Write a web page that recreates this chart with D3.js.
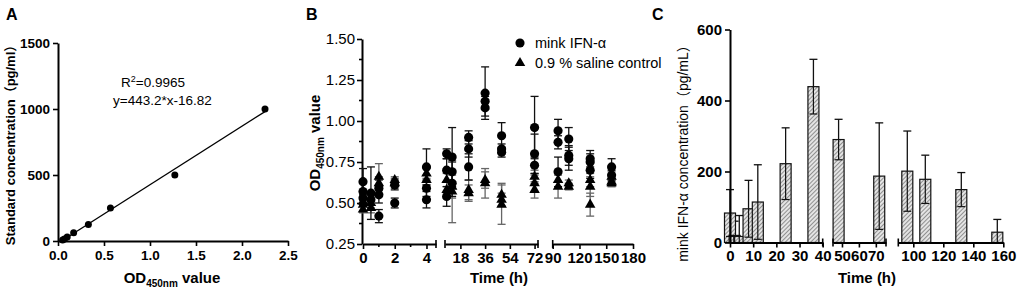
<!DOCTYPE html>
<html>
<head>
<meta charset="utf-8">
<script src="https://cdn.jsdelivr.net/npm/d3@7"></script>
<style>
body { margin: 0; background: #fff; }
svg { font-family: Arial, "Liberation Sans", "Noto Sans CJK SC", sans-serif; }
.axis .domain { stroke: #000; stroke-width: 2; }
.axis .tick line { stroke: #000; stroke-width: 1.6; }
</style>
</head>
<body>
<svg id="fig" width="1021" height="293"></svg>
<script>
// ---- Panel A data: standard curve
var stdOD = [0.05, 0.07, 0.10, 0.17, 0.33, 0.57, 1.27, 2.25];
var stdConc = [7.8, 15.6, 31.25, 62.5, 125, 250, 500, 1000];
var fitSlope = 443.2, fitIntercept = -16.82;
var fitOD = [0.06, 2.25];
var aXTicks = [0, 0.5, 1.0, 1.5, 2.0, 2.5];
var aYTicks = [0, 500, 1000, 1500];

// ---- Panel B data: OD values per time point, [mean, sd] per well
var bTimes = [0, 0.5, 1, 2, 4, 8, 12, 24, 36, 48, 72, 96, 108, 132, 156];
var ifnOD = [
  [[0.63, 0.08], [0.57, 0.05], [0.53, 0.04]],
  [[0.56, 0.16], [0.52, 0.03]],
  [[0.59, 0.05], [0.55, 0.05], [0.42, 0.04]],
  [[0.50, 0.03], [0.61, 0.03]],
  [[0.72, 0.11], [0.59, 0.05], [0.52, 0.05]],
  [[0.80, 0.03], [0.70, 0.07], [0.54, 0.06]],
  [[0.78, 0.18], [0.69, 0.06], [0.62, 0.08]],
  [[0.90, 0.04], [0.83, 0.05], [0.72, 0.08]],
  [[1.17, 0.16], [1.12, 0.03], [1.08, 0.05]],
  [[0.91, 0.08], [0.83, 0.03], [0.81, 0.03]],
  [[0.96, 0.19], [0.80, 0.12], [0.73, 0.05]],
  [[0.94, 0.07], [0.87, 0.04], [0.69, 0.09]],
  [[0.89, 0.07], [0.79, 0.06], [0.77, 0.07]],
  [[0.77, 0.05], [0.75, 0.05], [0.70, 0.05]],
  [[0.72, 0.05], [0.67, 0.03]]
];
var salineOD = [
  [[0.49, 0.04], [0.46, 0.02], [0.51, 0.03]],
  [[0.50, 0.03], [0.47, 0.03]],
  [[0.66, 0.08], [0.62, 0.04]],
  [[0.64, 0.02], [0.62, 0.03]],
  [[0.68, 0.03], [0.64, 0.03]],
  [[0.64, 0.04], [0.58, 0.05]],
  [[0.57, 0.19], [0.60, 0.07]],
  [[0.58, 0.06], [0.56, 0.05]],
  [[0.62, 0.09], [0.64, 0.05]],
  [[0.55, 0.07], [0.52, 0.04], [0.49, 0.12]],
  [[0.66, 0.04], [0.62, 0.05], [0.58, 0.05]],
  [[0.64, 0.04], [0.60, 0.07]],
  [[0.62, 0.02], [0.60, 0.02]],
  [[0.64, 0.04], [0.60, 0.06], [0.49, 0.07]],
  [[0.66, 0.03], [0.63, 0.03], [0.62, 0.02]]
];
var bYTicks = [0.25, 0.50, 0.75, 1.00, 1.25, 1.50];
var bYMinor = [0.375, 0.625, 0.875, 1.125, 1.375];
var bSeriesNames = ["mink IFN-α", "0.9 % saline control"];

// ---- Panel C data: mink IFN-alpha concentration (pg/mL)
var cTimes = [0, 2, 4, 8, 12, 24, 36, 48, 72, 96, 108, 132, 156];
var cMean = [83, 20, 17, 95, 114, 222, 439, 290, 187, 201, 178, 149, 29];
var cSD = [66, 40, 59, 80, 105, 101, 77, 57, 150, 113, 68, 48, 36];
var cYTicks = [0, 200, 400, 600];

var svg = d3.select('#fig');

// hatch for the bars
var defs = svg.append('defs');
var pat = defs.append('pattern')
  .attr('id', 'hatch')
  .attr('patternUnits', 'userSpaceOnUse')
  .attr('width', 3).attr('height', 3)
  .attr('patternTransform', 'rotate(45)');
pat.append('rect').attr('width', 3).attr('height', 3).attr('fill', '#e4e4e4');
pat.append('line').attr('x1', 0).attr('y1', 0).attr('x2', 0).attr('y2', 3)
  .attr('stroke', '#4a4a4a').attr('stroke-width', 1.1);

function panelLabel(x, txt) {
  svg.append('text').attr('x', x).attr('y', 20)
    .style('font-size', '16px').style('font-weight', 'bold').text(txt);
}

function styleTicks(g, size, weight) {
  g.selectAll('.tick text').style('font-size', size).style('font-weight', weight).attr('fill', '#000');
}

// ================= Panel A =================
var xA = d3.scaleLinear().domain([0, 2.5]).range([58, 288]);
var yA = d3.scaleLinear().domain([0, 1500]).range([241, 43]);

var gAx = svg.append('g').attr('class', 'axis').attr('transform', 'translate(0,241)')
  .call(d3.axisBottom(xA).tickValues(aXTicks).tickFormat(d3.format('.1f')).tickSize(5).tickPadding(4).tickSizeOuter(0));
styleTicks(gAx, '13.5px', 'bold');
var gAy = svg.append('g').attr('class', 'axis').attr('transform', 'translate(58,0)')
  .call(d3.axisLeft(yA).tickValues(aYTicks).tickFormat(d3.format('d')).tickSize(5).tickPadding(3).tickSizeOuter(0));
styleTicks(gAy, '13.5px', 'bold');

svg.append('line')
  .attr('x1', xA(fitOD[0])).attr('y1', yA(fitSlope * fitOD[0] + fitIntercept))
  .attr('x2', xA(fitOD[1])).attr('y2', yA(fitSlope * fitOD[1] + fitIntercept))
  .attr('stroke', '#000').attr('stroke-width', 1.3);

svg.selectAll('circle.std')
  .data(stdOD)
  .enter()
  .append('circle')
  .attr('class', 'std')
  .attr('cx', function (d) { return xA(d); })
  .attr('cy', function (d, i) { return yA(stdConc[i]); })
  .attr('r', 3.5)
  .attr('fill', '#000');

var r2 = svg.append('text').attr('x', 121).attr('y', 87).style('font-size', '13.5px');
r2.append('tspan').text('R');
r2.append('tspan').attr('dy', -5).style('font-size', '9px').text('2');
r2.append('tspan').attr('dy', 5).text('=0.9965');
svg.append('text').attr('x', 113).attr('y', 105).style('font-size', '13.5px')
  .text('y=' + fitSlope + '*x' + fitIntercept);

svg.append('text')
  .attr('transform', 'translate(15,142) rotate(-90)')
  .attr('text-anchor', 'middle')
  .style('font-size', '13px').style('font-weight', 'bold')
  .text('Standard concentration（pg/ml）');

var tA = svg.append('text').attr('x', 172).attr('y', 283).attr('text-anchor', 'middle')
  .style('font-size', '15px').style('font-weight', 'bold');
tA.append('tspan').text('OD');
tA.append('tspan').attr('dy', 4).style('font-size', '10px').text('450nm');
tA.append('tspan').attr('dy', -4).text(' value');

panelLabel(6, 'A');

// ================= Panel B =================
var yB = d3.scaleLinear().domain([0.25, 1.5]).range([244, 39]);
var bSegs = [
  { scale: d3.scaleLinear().domain([0, 4.6]).range([363, 436]), ticks: [0, 2, 4], minor: [1, 3], start: false },
  { scale: d3.scaleLinear().domain([6.8, 74.5]).range([445, 538]), ticks: [18, 36, 54, 72], minor: [], start: true },
  { scale: d3.scaleLinear().domain([90, 180]).range([552.7, 633]), ticks: [90, 120, 150, 180], minor: [], start: true, noEnd: true }
];
function xB(t) {
  for (var i = 0; i < bSegs.length; i++) {
    var dm = bSegs[i].scale.domain();
    if (t >= dm[0] && t <= dm[1]) return bSegs[i].scale(t);
  }
  return null;
}

function drawBrokenAxis(segs, y0, fontSize) {
  segs.forEach(function (s) {
    var g = svg.append('g').attr('class', 'axis').attr('transform', 'translate(0,' + y0 + ')')
      .call(d3.axisBottom(s.scale).tickValues(s.ticks).tickFormat(d3.format('d')).tickSize(5).tickPadding(3).tickSizeOuter(0));
    styleTicks(g, fontSize, 'bold');
    s.minor.forEach(function (m) {
      g.append('line').attr('x1', s.scale(m)).attr('x2', s.scale(m)).attr('y1', 0).attr('y2', 3)
        .attr('stroke', '#000').attr('stroke-width', 1.6);
    });
    var r = s.scale.range();
    if (s.start) {
      g.append('line').attr('x1', r[0]).attr('x2', r[0]).attr('y1', -4).attr('y2', 4)
        .attr('stroke', '#000').attr('stroke-width', 1.6);
    }
    if (!s.noEnd) {
      g.append('line').attr('x1', r[1]).attr('x2', r[1]).attr('y1', -4).attr('y2', 4)
        .attr('stroke', '#000').attr('stroke-width', 1.6);
    }
  });
}
drawBrokenAxis(bSegs, 244, '15px');

var gBy = svg.append('g').attr('class', 'axis').attr('transform', 'translate(362,0)')
  .call(d3.axisLeft(yB).tickValues(bYTicks).tickFormat(d3.format('.2f')).tickSize(5).tickPadding(2).tickSizeOuter(0));
styleTicks(gBy, '15px', 'normal');
bYMinor.forEach(function (m) {
  gBy.append('line').attr('x1', -3).attr('x2', 0).attr('y1', yB(m)).attr('y2', yB(m))
    .attr('stroke', '#000').attr('stroke-width', 1.6);
});

function flatten(series) {
  var out = [];
  series.forEach(function (pts, i) {
    pts.forEach(function (p) { out.push({ t: bTimes[i], m: p[0], sd: p[1] }); });
  });
  return out;
}
var salinePts = flatten(salineOD);
var ifnPts = flatten(ifnOD);

function drawErr(data, color) {
  var g = svg.append('g');
  data.forEach(function (d) {
    var x = xB(d.t);
    g.append('line').attr('x1', x).attr('x2', x).attr('y1', yB(d.m - d.sd)).attr('y2', yB(d.m + d.sd))
      .attr('stroke', color).attr('stroke-width', 1.3);
    [d.m - d.sd, d.m + d.sd].forEach(function (v) {
      g.append('line').attr('x1', x - 4).attr('x2', x + 4).attr('y1', yB(v)).attr('y2', yB(v))
        .attr('stroke', color).attr('stroke-width', 1.3);
    });
  });
}
drawErr(salinePts, '#666');
drawErr(ifnPts, '#111');

var triSym = d3.symbol().type(d3.symbolTriangle).size(48);
var cirSym = d3.symbol().type(d3.symbolCircle).size(66);

svg.selectAll('path.sal')
  .data(salinePts)
  .enter()
  .append('path')
  .attr('class', 'sal')
  .attr('d', triSym)
  .attr('transform', function (d) { return 'translate(' + xB(d.t) + ',' + yB(d.m) + ')'; })
  .attr('fill', '#000');

svg.selectAll('path.ifn')
  .data(ifnPts)
  .enter()
  .append('path')
  .attr('class', 'ifn')
  .attr('d', cirSym)
  .attr('transform', function (d) { return 'translate(' + xB(d.t) + ',' + yB(d.m) + ')'; })
  .attr('fill', '#000');

// legend
var leg = svg.append('g').attr('transform', 'translate(520,43)');
leg.append('path').attr('d', cirSym).attr('fill', '#000');
leg.append('path').attr('d', triSym).attr('transform', 'translate(0,20)').attr('fill', '#000');
leg.selectAll('text')
  .data(bSeriesNames)
  .enter()
  .append('text')
  .attr('x', 15)
  .attr('y', function (d, i) { return i * 20 + 5; })
  .style('font-size', '14.5px')
  .text(function (d) { return d; });

var tBy = svg.append('text').attr('transform', 'translate(320,143) rotate(-90)')
  .attr('text-anchor', 'middle').style('font-size', '15px').style('font-weight', 'bold');
tBy.append('tspan').text('OD');
tBy.append('tspan').attr('dy', 4).style('font-size', '10px').text('450nm');
tBy.append('tspan').attr('dy', -4).text(' value');

svg.append('text').attr('x', 499).attr('y', 283).attr('text-anchor', 'middle')
  .style('font-size', '15px').style('font-weight', 'bold').text('Time (h)');

panelLabel(306, 'B');

// ================= Panel C =================
var yC = d3.scaleLinear().domain([0, 600]).range([242.5, 29.5]);
var cSegs = [
  { scale: d3.scaleLinear().domain([0, 40]).range([730, 822.7]), ticks: [0, 10, 20, 30, 40], minor: [], start: false },
  { scale: d3.scaleLinear().domain([44.7, 76]).range([833, 886]), ticks: [50, 60, 70], minor: [], start: true },
  { scale: d3.scaleLinear().domain([90, 160]).range([898.3, 1003.3]), ticks: [100, 120, 140, 160], minor: [], start: true, noEnd: true }
];
function xC(t) {
  for (var i = 0; i < cSegs.length; i++) {
    var dm = cSegs[i].scale.domain();
    if (t >= dm[0] && t <= dm[1]) return cSegs[i].scale(t);
  }
  return null;
}
var barW = 11;

var cData = cTimes.map(function (t, i) { return { t: t, m: cMean[i], sd: cSD[i] }; });

// upper error bars behind the bars
var gErr = svg.append('g');
cData.forEach(function (d) {
  var x = xC(d.t);
  var hi = d.m + d.sd;
  gErr.append('line').attr('x1', x).attr('x2', x).attr('y1', yC(d.m)).attr('y2', yC(hi))
    .attr('stroke', '#111').attr('stroke-width', 1.3);
  gErr.append('line').attr('x1', x - 4).attr('x2', x + 4).attr('y1', yC(hi)).attr('y2', yC(hi))
    .attr('stroke', '#111').attr('stroke-width', 1.3);
});

svg.selectAll('rect.bar')
  .data(cData)
  .enter()
  .append('rect')
  .attr('class', 'bar')
  .attr('x', function (d) { return xC(d.t) - barW / 2; })
  .attr('y', function (d) { return yC(d.m); })
  .attr('width', barW)
  .attr('height', function (d) { return yC(0) - yC(d.m); })
  .attr('fill', 'url(#hatch)')
  .attr('stroke', '#111')
  .attr('stroke-width', 1.2);

// lower half of the error bars shows through the bars
cData.forEach(function (d) {
  var x = xC(d.t);
  var lo = Math.max(0, d.m - d.sd);
  svg.append('line').attr('x1', x).attr('x2', x).attr('y1', yC(lo)).attr('y2', yC(d.m))
    .attr('stroke', '#111').attr('stroke-width', 1.2);
  if (d.m - d.sd > 0) {
    svg.append('line').attr('x1', x - 4).attr('x2', x + 4).attr('y1', yC(lo)).attr('y2', yC(lo))
      .attr('stroke', '#111').attr('stroke-width', 1.2);
  }
});

drawBrokenAxis(cSegs, 242.5, '15px');
var gCy = svg.append('g').attr('class', 'axis').attr('transform', 'translate(730,0)')
  .call(d3.axisLeft(yC).tickValues(cYTicks).tickSize(5).tickPadding(3).tickSizeOuter(0));
styleTicks(gCy, '15px', 'bold');

svg.append('text').attr('transform', 'translate(688,150) rotate(-90)')
  .attr('text-anchor', 'middle').style('font-size', '14px')
  .text('mink IFN-α concentration（pg/mL）');

svg.append('text').attr('x', 867).attr('y', 283).attr('text-anchor', 'middle')
  .style('font-size', '15px').style('font-weight', 'bold').text('Time (h)');

panelLabel(652, 'C');
</script>
</body>
</html>
